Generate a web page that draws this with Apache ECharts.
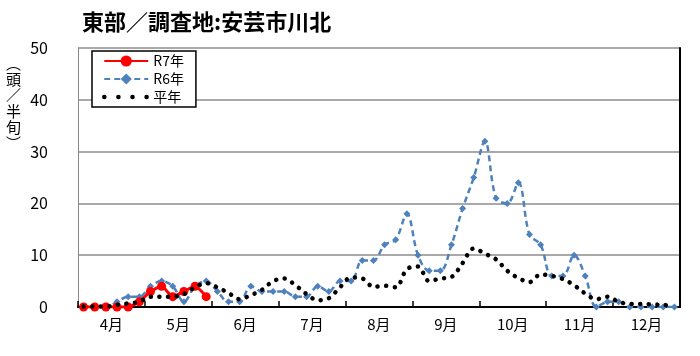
<!DOCTYPE html>
<html><head><meta charset="utf-8">
<script src="https://cdn.jsdelivr.net/npm/echarts@6/dist/echarts.min.js"></script>
<style>html,body{margin:0;padding:0;background:#fff}#c{width:700px;height:356px}</style>
</head><body><div id="c"></div>
<script>
// month labels (each month split into 6 half-旬 periods)
const monthLabels = ['4月','5月','6月','7月','8月','9月','10月','11月','12月'];
const categories = [];
monthLabels.forEach(function (m) { for (let k = 1; k <= 6; k++) categories.push(m + '-' + k); });

// R7年 (current year, up to early May)
const r7 = [0,0,0,0,0,1,3,4,2,3,4,2];
// R6年
const r6 = [0,0,0,1,2,2,4,5,4,1,
            4,5,3,1,1,4,3,3,3,2,
            2,4,3,5,5,9,9,12,13,18,
            10,7,7,12,19,25,32,21,20,24,
            14,12,6,6,10,6,0,1,1,0,
            0,0,0,0];
// 平年 (average)
const avg = [0.1,0.1,0.1,0.4,0.7,1.0,2.0,2.0,2.0,2.5,
             3.8,4.6,3.8,2.7,1.5,2.3,3.3,5.0,5.5,4.2,
             2.5,1.3,1.7,3.8,5.7,5.5,3.9,4.1,3.8,7.3,
             7.8,5.0,5.5,5.8,8.5,11.3,10.3,9.2,7.0,5.6,
             4.8,6.3,6.0,5.4,4.2,2.6,1.5,2.0,1.0,0.6,
             0.6,0.5,0.4,0.2];
const yMin = 0, yMax = 50, yStep = 10;

const font = '"Noto Sans CJK JP", "Noto Sans", sans-serif';
const chart = echarts.init(document.getElementById('c'), null, {renderer: 'canvas'});
chart.setOption({
  animation: false,
  backgroundColor: '#fff',
  title: {
    text: '東部／調査地:安芸市川北', left: 82, top: 11, padding: 0,
    textStyle: {fontSize: 22, fontWeight: 'bold', color: '#000', fontFamily: font}
  },
  graphic: [{
    type: 'text', left: 6, top: 55,
    style: {text: '︵\n頭\n／\n半\n旬\n︶', fontSize: 15, lineHeight: 16, fill: '#000', fontFamily: font, align: 'center'}
  }],
  legend: {
    data: ['R7年', 'R6年', {name: '平年',
      itemStyle: {color: 'rgba(0,0,0,0)', borderWidth: 0},
      lineStyle: {color: '#000', width: 4.5, type: [0.1, 14], cap: 'round'}}],
    orient: 'vertical', left: 92, top: 51,
    padding: [3, 12, 3, 10], itemGap: 4, itemWidth: 44, itemHeight: 14,
    borderColor: '#000', borderWidth: 1.5, backgroundColor: '#fff', borderRadius: 0,
    textStyle: {fontSize: 14, color: '#000', fontFamily: font}
  },
  grid: {left: 78, right: 20, top: 48, bottom: 49, containLabel: false},
  xAxis: [{
    type: 'category', data: categories, boundaryGap: true, position: 'bottom',
    axisLine: {show: true, lineStyle: {color: '#000', width: 2}},
    axisTick: {show: true, inside: true, length: 6, alignWithLabel: false,
      interval: function (i) { return i % 6 === 0; },
      lineStyle: {color: '#000', width: 1.5}},
    axisLabel: {show: true, interval: function (i) { return i % 6 === 2; },
      formatter: function (v) { return v.split('-')[0]; },
      padding: [0, 0, 0, 11], fontSize: 15, color: '#000', margin: 10, fontFamily: font},
    splitLine: {show: false}
  }, {
    type: 'category', data: categories, position: 'top',
    axisLine: {show: true, lineStyle: {color: '#000', width: 1.5}},
    axisTick: {show: false}, axisLabel: {show: false}, splitLine: {show: false}
  }],
  yAxis: [{
    type: 'value', min: yMin, max: yMax, interval: yStep, position: 'left',
    axisLine: {show: true, lineStyle: {color: '#888', width: 1}},
    axisTick: {show: false},
    axisLabel: {fontSize: 16, margin: 30, color: '#000', fontFamily: font},
    splitLine: {show: true, lineStyle: {color: '#8c8c8c', width: 1.5}}
  }, {
    type: 'value', min: yMin, max: yMax, interval: yStep, position: 'right',
    axisLine: {show: true, lineStyle: {color: '#000', width: 2}},
    axisTick: {show: false}, axisLabel: {show: false}, splitLine: {show: false}
  }],
  series: [{
    name: 'R6年', type: 'line', data: r6, smooth: 0.35,
    symbol: 'diamond', symbolSize: 7, showAllSymbol: true,
    lineStyle: {color: '#4F81BD', width: 2.5, type: [6, 4]},
    itemStyle: {color: '#4F81BD'}, z: 2
  }, {
    name: 'R7年', type: 'line', data: r7, smooth: 0.2,
    symbol: 'circle', symbolSize: 9, showAllSymbol: true,
    lineStyle: {color: '#FF0000', width: 3},
    itemStyle: {color: '#FF0000'}, z: 3
  }, {
    name: '平年', type: 'line', data: avg, smooth: 0.35,
    symbol: 'none',
    lineStyle: {color: '#000', width: 4.5, type: [0.1, 8.5], cap: 'round'},
    itemStyle: {color: '#000'}, z: 4
  }]
});
</script></body></html>
